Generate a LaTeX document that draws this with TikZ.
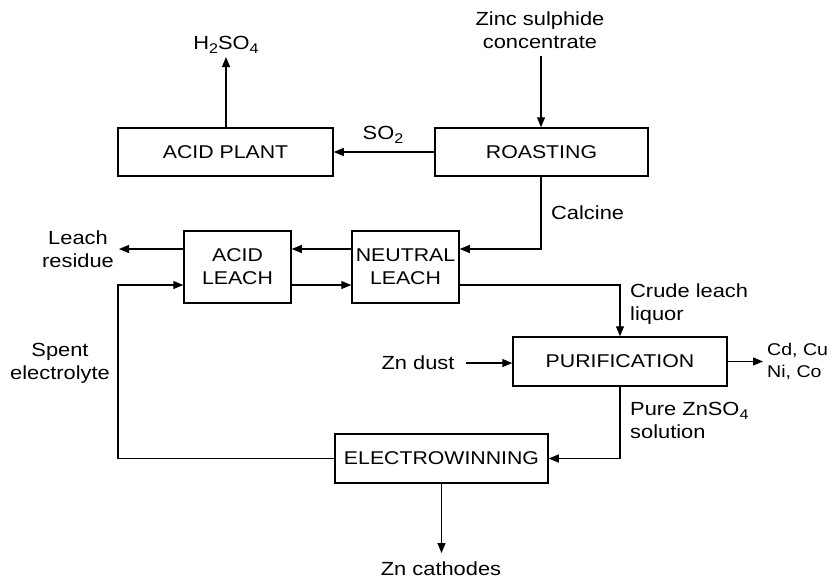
\documentclass[tikz,border=0pt]{standalone}
\usepackage{fontspec}
\setmainfont{Liberation Sans}[FakeStretch=1.15]
\usetikzlibrary{arrows.meta}
\newcommand{\chemsub}[1]{\raisebox{-0.4ex}{\fontsize{14}{14}\selectfont #1}}
\tikzset{
  proc/.style={draw, line width=1.5pt, minimum width=#1, minimum height=48pt, inner sep=0pt, font=\fontsize{18.5}{23}\selectfont, align=center},
  lbl/.style={font=\fontsize{19}{23}\selectfont, align=center, inner sep=0pt},
  flow/.style={line width=1.2pt, -{Triangle[length=10pt,width=8pt]}},
  line/.style={line width=1.2pt}
}
\begin{document}
\begin{tikzpicture}[x=1pt,y=-1pt]
\useasboundingbox (0,0) rectangle (832,582);
% process boxes
\node[proc=215pt] (acidplant) at (225.5,152) {ACID PLANT};
\node[proc=213pt] (roast) at (541.5,152) {ROASTING};
\node[proc=107pt, minimum height=72pt] (acidleach) at (237.5,267) {ACID\\LEACH};
\node[proc=107pt, minimum height=72pt] (neutral) at (405.5,267) {NEUTRAL\\LEACH};
\node[proc=214pt, minimum height=49pt] (purif) at (620,361.5) {PURIFICATION};
\node[proc=213pt, minimum height=49pt] (electro) at (441.5,458.5) {ELECTROWINNING};
% text labels
\node[lbl] (h2so4) at (226,45) {H\chemsub{2}SO\chemsub{4}};
\node[lbl] (zinc) at (540,30) {Zinc sulphide\\concentrate};
\node[lbl] (so2) at (383,135) {SO\chemsub{2}};
\node[lbl, anchor=west] (calcine) at (551,213) {Calcine};
\node[lbl] (residue) at (78,249) {Leach\\residue};
\node[lbl] (spent) at (60,363) {Spent\\electrolyte};
\node[lbl, anchor=west, align=left] (crude) at (630,304) {Crude leach\\liquor};
\node[lbl] (zndust) at (418,363) {Zn dust};
\node[lbl, anchor=west, align=left, font=\fontsize{17}{22}\selectfont] (cdcu) at (767,361) {Cd, Cu\\Ni, Co};
\node[lbl, anchor=west, align=left] (pure) at (630,420) {Pure ZnSO\chemsub{4}\\solution};
\node[lbl] (cathodes) at (441,569) {Zn cathodes};
% helper coordinates
\coordinate (h2top) at (226,57);
\coordinate (zinctop) at (541,56);
\coordinate (calc) at (541,249);
\coordinate (resend) at (119,249);
\coordinate (crudecorner) at (620,285);
\coordinate (purecorner) at (620,458.5);
\coordinate (spentbot) at (118,458.5);
\coordinate (spenttop) at (118,285);
\coordinate (zdstart) at (466,363);
\coordinate (cdend) at (763,361.5);
\coordinate (cathend) at (441.5,553);
% connectors
\draw[flow] (acidplant.north -| h2top) -- (h2top);
\draw[flow] (zinctop) -- (roast.north -| zinctop);
\draw[flow] (roast.west) -- (acidplant.east);
\draw[flow] (roast.south -| calc) -- (calc) -- (calc -| neutral.east);
\draw[flow] (neutral.west |- calc) -- (acidleach.east |- calc);
\draw[flow] (acidleach.east |- crudecorner) -- (neutral.west |- crudecorner);
\draw[flow] (acidleach.west |- calc) -- (resend);
\draw[flow] (neutral.east |- crudecorner) -- (crudecorner) -- (purif.north);
\draw[flow] (zdstart) -- (purif.west |- zdstart);
\draw[flow] (purif.east) -- (cdend);
\draw[flow] (purif.south) -- (purecorner) -- (electro.east);
\draw[flow] (electro.west) -- (spentbot) -- (spenttop) -- (acidleach.west |- spenttop);
\draw[flow] (electro.south) -- (cathend);
\end{tikzpicture}
\end{document}
